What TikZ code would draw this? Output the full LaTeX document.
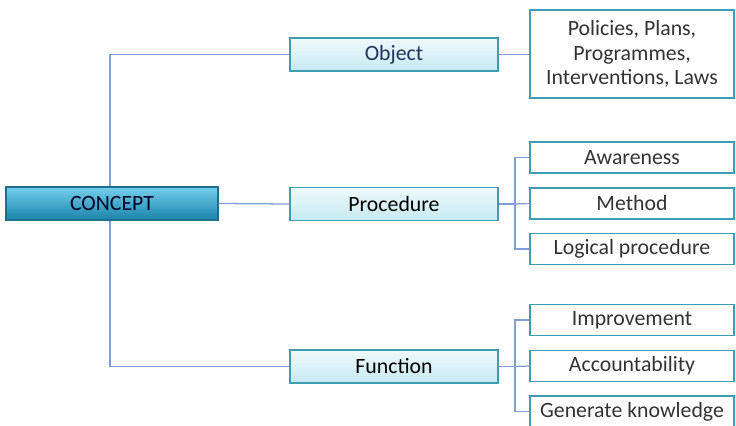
\documentclass[tikz,border=0pt]{standalone}
\usepackage{fontspec}
\setmainfont{Carlito}
\definecolor{linkblue}{HTML}{7E9ED6}
\definecolor{boxteal}{HTML}{3E9DB5}
\definecolor{conceptedge}{HTML}{1D6F8E}
\definecolor{concepttop}{HTML}{74CFEC}
\definecolor{conceptmid}{HTML}{2EA9D2}
\definecolor{conceptbot}{HTML}{1A82AA}
\definecolor{branchtop}{HTML}{EEF9FB}
\definecolor{branchbot}{HTML}{C6EAF1}
\definecolor{textgray}{HTML}{333333}
\definecolor{navytext}{HTML}{22345E}
\tikzset{
	link/.style = {linkblue, line width=0.9pt},
	concept/.style = {draw=conceptedge, line width=0.8pt, top color=concepttop, middle color=conceptmid, bottom color=conceptbot, minimum width=5.3cm, minimum height=0.825cm, inner sep=0pt, text=black!85!blue},
	branch/.style = {draw=boxteal, line width=0.8pt, top color=branchtop, bottom color=branchbot, minimum width=5.2cm, minimum height=0.825cm, inner sep=0pt},
	leaf/.style = {draw=boxteal, line width=1.1pt, fill=white, minimum width=5.1cm, minimum height=0.775cm, inner sep=0pt, text=textgray},
}
\begin{document}
\begin{tikzpicture}[x=0.025cm, y=-0.025cm, font=\fontsize{15.5}{17.5}\selectfont]
		\useasboundingbox (0,0) rectangle (736,426);
		% left column
		\node[concept] (concept) at (112,203.5) {CONCEPT};
		% middle column
		\node[branch, text=navytext] (object) at (394,54.5) {Object};
		\node[branch] (procedure) at (394,204) {Procedure};
		\node[branch] (function) at (394,366.5) {Function};
		% right column
		\node[leaf, minimum height=2.2cm, align=center] (policies) at (632,54) {Policies, Plans,\\Programmes,\\Interventions, Laws};
		\node[leaf] (awareness) at (632,157.5) {Awareness};
		\node[leaf] (method) at (632,203.5) {Method};
		\node[leaf] (logical) at (632,249) {Logical procedure};
		\node[leaf] (improvement) at (632,320) {Improvement};
		\node[leaf] (accountability) at (632,366) {Accountability};
		\node[leaf] (generate) at (632,411.5) {Generate knowledge};
		% connectors
		\coordinate (pfork) at (515,204);
		\coordinate (ffork) at (515,366.5);
		\draw[link] (concept.north -| 110,0) |- (object.west);
		\draw[link] (concept.south -| 110,0) |- (function.west);
		\draw[link] (concept.east) -- (procedure.west);
		\draw[link] (object.east) -- (object.east -| policies.west);
		\draw[link] (procedure.east) -- (pfork);
		\draw[link] (awareness.west) -| (pfork) |- (logical.west);
		\draw[link] (pfork) -- (method.west);
		\draw[link] (function.east) -- (ffork);
		\draw[link] (improvement.west) -| (ffork) |- (generate.west);
		\draw[link] (ffork) -- (accountability.west);
	\end{tikzpicture}
\end{document}
